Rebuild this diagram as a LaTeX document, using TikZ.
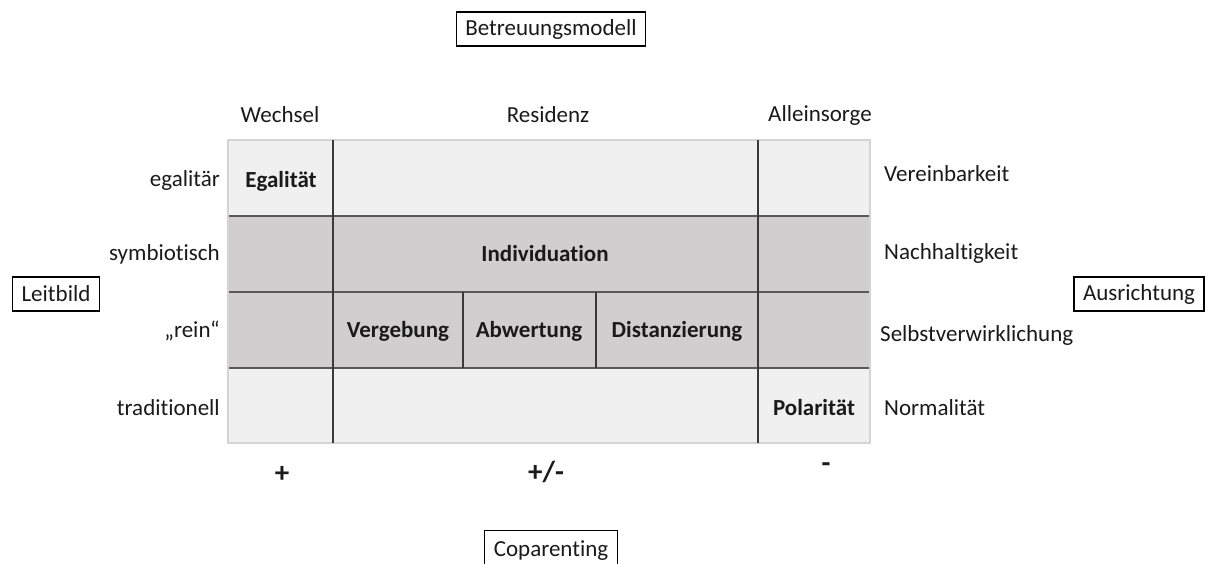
\documentclass[tikz,border=0pt]{standalone}
\usepackage{fontspec}
\setmainfont{Carlito}[RawFeature={-liga}]
\definecolor{lightcell}{HTML}{F0F0F0}
\definecolor{darkcell}{HTML}{D0CECE}
\definecolor{outerline}{HTML}{D4D4D4}
\definecolor{hline}{HTML}{595959}
\definecolor{vline}{HTML}{3A3A3A}
\definecolor{txt}{HTML}{1A1A1A}
\begin{document}
\begin{tikzpicture}[x=1pt,y=-1pt,
  lbl/.style={font=\fontsize{23}{26}\selectfont, text=txt, inner sep=0pt},
  cell/.style={font=\fontsize{23}{26}\selectfont\bfseries, text=txt, inner sep=0pt},
  sign/.style={font=\fontsize{29}{32}\selectfont\bfseries, text=txt, inner sep=0pt},
  framebox/.style={draw=black, line width=1.2pt, font=\fontsize{23}{26}\selectfont, text=txt, inner xsep=9pt, inner ysep=0pt, minimum height=34pt}]
\useasboundingbox (0,0) rectangle (1209,563);
% cells
\fill[lightcell] (228,140) rectangle (870,216);
\fill[darkcell] (228,216) rectangle (870,368);
\fill[lightcell] (228,368) rectangle (870,443);
% horizontal lines
\draw[hline, line width=1.6pt] (228,216) -- (870,216);
\draw[hline, line width=1.6pt] (228,292) -- (870,292);
\draw[hline, line width=1.6pt] (228,368) -- (870,368);
% outer frame
\draw[outerline, line width=2pt] (228,140) rectangle (870,443);
% vertical lines
\draw[vline, line width=1.2pt] (333,140) -- (333,443);
\draw[vline, line width=1.2pt] (758,140) -- (758,443);
\draw[vline, line width=1.2pt] (463,292) -- (463,368);
\draw[vline, line width=1.2pt] (596,292) -- (596,368);
% cell texts
\node[cell] (egal) at (281,181) {Egalität};
\node[cell] (indiv) at (545,254) {Individuation};
\node[cell] (verg) at (398,331) {Vergebung};
\node[cell] (abw) at (529,331) {Abwertung};
\node[cell] (dist) at (677,331) {Distanzierung};
\node[cell] (pol) at (814,408) {Polarität};
% column labels
\node[lbl] (wechsel) at (280,115) {Wechsel};
\node[lbl] (residenz) at (548,115) {Residenz};
\node[lbl] (allein) at (820,115) {Alleinsorge};
% row labels
\node[lbl, anchor=east] (egalitaer) at (220,180) {egalitär};
\node[lbl, anchor=east] (symb) at (220,254) {symbiotisch};
\node[lbl, anchor=east] (rein) at (220,331) {„rein“};
\node[lbl, anchor=east] (trad) at (220,408) {traditionell};
% right labels
\node[lbl, anchor=west] (verein) at (884,174) {Vereinbarkeit};
\node[lbl, anchor=west] (nach) at (884,253) {Nachhaltigkeit};
\node[lbl, anchor=west] (selbst) at (880,335) {Selbstverwirklichung};
\node[lbl, anchor=west] (norm) at (884,408) {Normalität};
% signs
\node[sign] (plus) at (282,474) {+};
\node[sign] (pm) at (546,472) {+/-};
\node[sign] (minus) at (826,468) {-};
% framed boxes
\node[framebox] (betr) at (551,29) {Betreuungsmodell};
\node[framebox] (leit) at (56,294) {Leitbild};
\node[framebox] (aus) at (1139,294) {Ausrichtung};
\node[framebox, anchor=north, minimum height=40pt] (copa) at (551,530) {Coparenting};
\end{tikzpicture}
\end{document}
